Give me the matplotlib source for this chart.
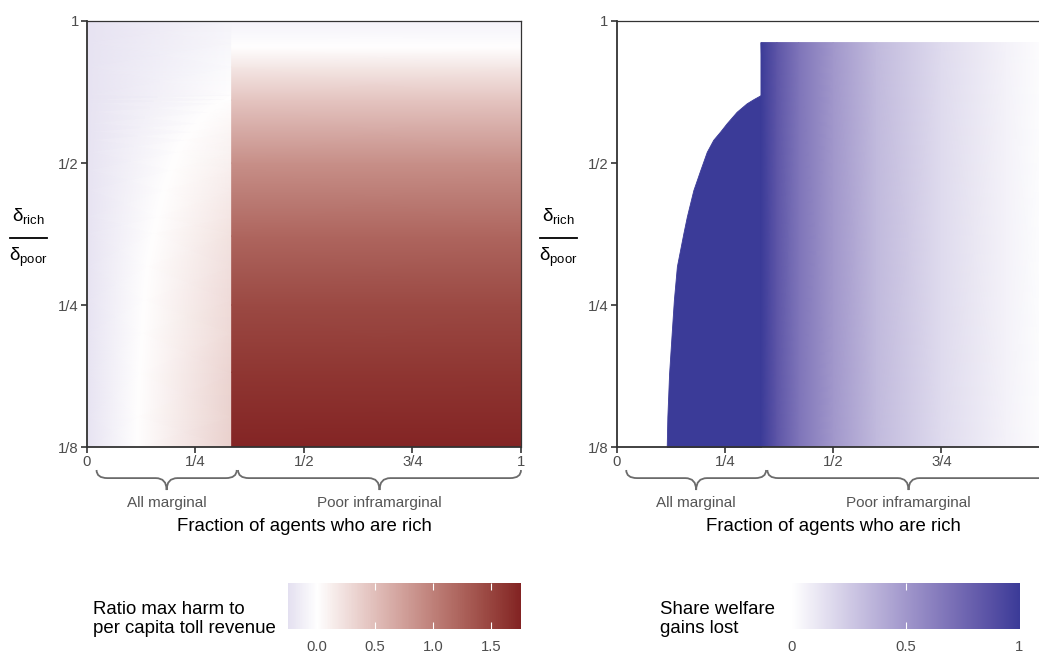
import numpy as np
import matplotlib
matplotlib.use("Agg")
import matplotlib.pyplot as plt
from matplotlib.colors import ListedColormap, Normalize, to_rgb
from matplotlib.path import Path
from matplotlib.patches import PathPatch
from matplotlib.ticker import NullLocator

plt.rcParams["font.family"] = ["Liberation Sans", "DejaVu Sans"]

# frontier where harm changes sign / all gains are lost (all-marginal regime)
frontier_ratio = [0.125, 0.145, 0.179, 0.218, 0.256, 0.302, 0.355, 0.385, 0.438,
                  0.483, 0.528, 0.560, 0.583, 0.607, 0.642, 0.669, 0.683, 0.697]
frontier_frac = [0.1155, 0.117, 0.121, 0.127, 0.132, 0.139, 0.154, 0.162, 0.177,
                 0.193, 0.208, 0.223, 0.239, 0.254, 0.277, 0.300, 0.316, 1 / 3]

# left panel, fraction < 1/3: harm ratio at fraction 0 and at fraction 1/3, per row
marg_ratio = frontier_ratio + [0.8, 0.9, 1.0]
marg_harm_left = [-0.22] * len(marg_ratio)
marg_harm_right = [0.36, 0.35, 0.33, 0.30, 0.28, 0.25, 0.22, 0.20, 0.16,
                   0.135, 0.105, 0.085, 0.07, 0.055, 0.035, 0.02, 0.01, 0.0,
                   -0.03, -0.06, -0.09]

# left panel, fraction > 1/3: harm ratio only depends on delta ratio
infra_ratio = [0.125, 0.18, 0.25, 0.35, 0.5, 0.68, 0.8, 0.88, 1.0]
infra_harm = [1.75, 1.60, 1.45, 1.22, 0.88, 0.46, 0.18, 0.0, -0.10]

# right panel, fraction > 1/3: share of gains lost only depends on fraction
infra_frac = [1 / 3, 0.37, 0.42, 0.5, 0.6, 0.75, 0.9, 1.0]
infra_share = [1.0, 0.85, 0.68, 0.5, 0.33, 0.17, 0.06, 0.0]
share_top = 0.9

harm_lo, harm_hi = -0.247, 1.75
x_ticks = [0, 0.25, 0.5, 0.75, 1]
x_labels = ["0", "1/4", "1/2", "3/4", "1"]
y_ticks = [0.125, 0.25, 0.5, 1]
y_labels = ["1/8", "1/4", "1/2", "1"]
regimes = ["All marginal", "Poor inframarginal"]
brace_spans = [(0.022, 0.345), (0.348, 1.0)]

BLUE = "#3B3B98"
RED = "#832424"

M = np.array([[0.4124, 0.3576, 0.1805], [0.2126, 0.7152, 0.0722], [0.0193, 0.1192, 0.9505]])
WHITE_PT = np.array([0.95047, 1.0, 1.08883])


def to_lab(c):
    rgb = np.array(to_rgb(c))
    lin = np.where(rgb <= 0.04045, rgb / 12.92, ((rgb + 0.055) / 1.055) ** 2.4)
    t = M @ lin / WHITE_PT
    f = np.where(t > 0.008856, np.cbrt(t), 7.787 * t + 16 / 116)
    return np.array([116 * f[1] - 16, 500 * (f[0] - f[1]), 200 * (f[1] - f[2])])


def from_lab(lab):
    fy = (lab[:, 0] + 16) / 116
    fx = fy + lab[:, 1] / 500
    fz = fy - lab[:, 2] / 200
    f = np.column_stack([fx, fy, fz])
    t = np.where(f > 0.2069, f ** 3, (f - 16 / 116) / 7.787) * WHITE_PT
    lin = t @ np.linalg.inv(M).T
    lin = np.clip(lin, 0, 1)
    rgb = np.where(lin <= 0.0031308, lin * 12.92, 1.055 * lin ** (1 / 2.4) - 0.055)
    return np.clip(rgb, 0, 1)


def lab_cmap(colors, n=256):
    labs = np.array([to_lab(c) for c in colors])
    pos = np.linspace(0, 1, len(colors))
    s = np.linspace(0, 1, n)
    lab = np.column_stack([np.interp(s, pos, labs[:, k]) for k in range(3)])
    return ListedColormap(from_lab(lab))


harm_cmap = lab_cmap([BLUE, "white", RED])
harm_norm = Normalize(-harm_hi, harm_hi)
share_cmap = lab_cmap(["white", BLUE])
share_norm = Normalize(0, 1)

fig = plt.figure(figsize=(10.39, 6.54), dpi=100)
ax1 = fig.add_axes([0.08373, 0.31651, 0.41771, 0.65138])
ax2 = fig.add_axes([0.59355, 0.31651, 0.41675, 0.65138])


def brace(ax, x0, x1):
    r = 0.025
    yt, ym, yp = -0.054, -0.073, -0.101
    xm = (x0 + x1) / 2
    verts = [(x0, yt), (x0, ym), (x0 + r, ym), (xm - r, ym), (xm, ym), (xm, yp),
             (xm, ym), (xm + r, ym), (x1 - r, ym), (x1, ym), (x1, yt)]
    codes = [Path.MOVETO, Path.CURVE3, Path.CURVE3, Path.LINETO, Path.CURVE3, Path.CURVE3,
             Path.CURVE3, Path.CURVE3, Path.LINETO, Path.CURVE3, Path.CURVE3]
    ax.add_patch(PathPatch(Path(verts, codes), transform=ax.get_xaxis_transform(),
                           clip_on=False, fill=False, edgecolor="#6b6b6b", lw=1.3))


def style(ax):
    ax.set_yscale("log", base=2)
    ax.set_xlim(0, 1)
    ax.set_ylim(0.125, 1)
    ax.set_xticks(x_ticks, x_labels)
    ax.set_yticks(y_ticks, y_labels)
    ax.yaxis.set_minor_locator(NullLocator())
    ax.tick_params(length=4, width=1.2, color="#333333", labelcolor="#4D4D4D",
                   labelsize=10.7, pad=2)
    for side in ["left", "bottom"]:
        ax.spines[side].set_linewidth(1.3)
        ax.spines[side].set_color("#333333")
    for side in ["top", "right"]:
        ax.spines[side].set_linewidth(0.9)
        ax.spines[side].set_color("#333333")
    for (x0, x1), name in zip(brace_spans, regimes):
        brace(ax, x0, x1)
        ax.text((x0 + x1) / 2, -0.131, name, transform=ax.get_xaxis_transform(),
                ha="center", va="center", color="#555555", fontsize=11)
    ax.text(0.5, -0.186, "Fraction of agents who are rich", transform=ax.transAxes,
            ha="center", va="center", fontsize=13.4)
    # stacked delta ratio label
    w = ax.get_position().width * 1039
    cx = -58.5 / w
    ax.text(cx, 0.542, r"$\mathregular{δ_{rich}}$", transform=ax.transAxes,
            ha="center", va="center", fontsize=13.5)
    ax.text(cx, 0.446, r"$\mathregular{δ_{poor}}$", transform=ax.transAxes,
            ha="center", va="center", fontsize=13.5)
    ax.plot([-77 / w, -40 / w], [0.491, 0.491], transform=ax.transAxes,
            color="black", lw=1.3, clip_on=False)


# left panel
n = len(marg_ratio)
k = len(frontier_frac)
mid_x = frontier_frac + [1 / 3] * (n - k)
mid_v = [0.0] * k + marg_harm_right[k:]
X = np.column_stack([np.zeros(n), mid_x, np.full(n, 1 / 3)])
Y = np.column_stack([marg_ratio] * 3)
C = np.column_stack([marg_harm_left, mid_v, marg_harm_right])
ax1.pcolormesh(X, Y, C, shading="gouraud", cmap=harm_cmap, norm=harm_norm)

Xb, Yb = np.meshgrid([1 / 3, 1.0], infra_ratio)
Cb = np.column_stack([infra_harm, infra_harm])
ax1.pcolormesh(Xb, Yb, Cb, shading="gouraud", cmap=harm_cmap, norm=harm_norm)
style(ax1)

# right panel
full = share_cmap(share_norm(1.0))
ax2.fill_betweenx(frontier_ratio, frontier_frac, 1 / 3, color=full, lw=0.6, edgecolor=full)
Xd, Yd = np.meshgrid(infra_frac, [0.125, share_top])
Cd = np.vstack([infra_share, infra_share])
ax2.pcolormesh(Xd, Yd, Cd, shading="gouraud", cmap=share_cmap, norm=share_norm)
style(ax2)
# the x = 1 label of the right panel falls outside the canvas
ax2.get_xticklabels()[-1].set_visible(False)


def legend_bar(rect, cmap, norm, lo, hi, ticks, labels, title, title_x):
    cax = fig.add_axes(rect)
    grad = np.linspace(lo, hi, 256)[None, :]
    cax.imshow(grad, extent=[lo, hi, 0, 1], aspect="auto", cmap=cmap, norm=norm,
               interpolation="bilinear")
    cax.set_xlim(lo, hi)
    cax.set_yticks([])
    cax.set_xticks(ticks, labels)
    cax.tick_params(axis="x", direction="in", length=5, width=0.8, color="white",
                    top=True, bottom=True, labelsize=10.7, labelcolor="#4D4D4D", pad=8)
    for t, v in zip(cax.xaxis.get_major_ticks(), ticks):
        if v <= lo or v >= hi:
            t.tick1line.set_visible(False)
            t.tick2line.set_visible(False)
    for s in cax.spines.values():
        s.set_visible(False)
    fig.text(title_x, 1 - 619 / 654, title, ha="left", va="center", fontsize=13.4,
             linespacing=1.1)


legend_bar([0.2772, 0.0378, 0.2233, 0.0713], harm_cmap, harm_norm, harm_lo, harm_hi,
           [0, 0.5, 1.0, 1.5], ["0.0", "0.5", "1.0", "1.5"],
           "Ratio max harm to\nper capita toll revenue", 93 / 1039)
legend_bar([0.7623, 0.0378, 0.2185, 0.0713], share_cmap, share_norm, 0, 1,
           [0, 0.5, 1], ["0", "0.5", "1"], "Share welfare\ngains lost", 660 / 1039)

fig.savefig("out.png", dpi=100)
